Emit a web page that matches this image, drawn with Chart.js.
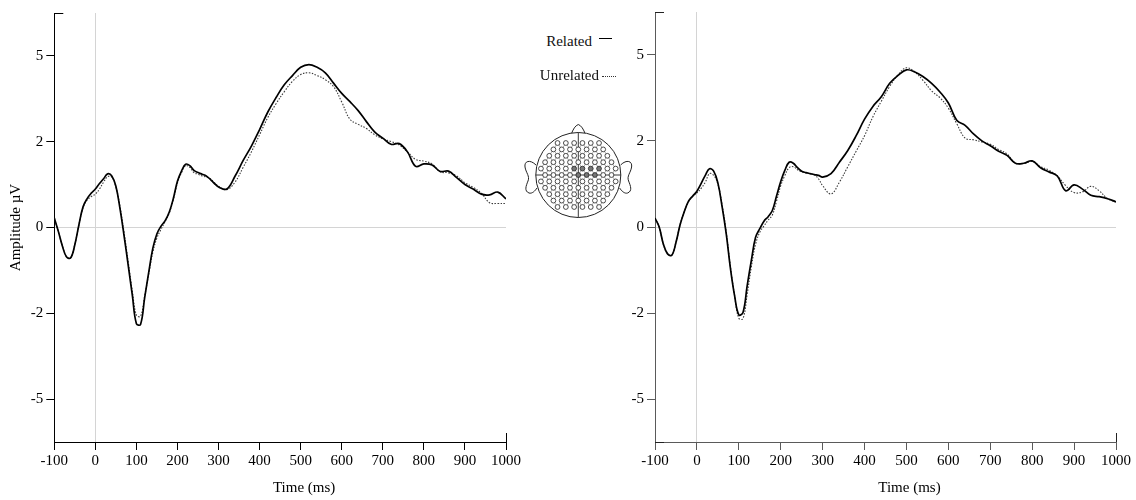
<!DOCTYPE html>
<html><head><meta charset="utf-8">
<script src="https://cdn.jsdelivr.net/npm/chart.js@4.4.1/dist/chart.umd.min.js"></script>
<style>
html,body{margin:0;padding:0;background:#fff;}
#wrap{position:relative;width:1136px;height:500px;overflow:hidden;font-family:"Liberation Serif","Times New Roman",serif;}
.cbox{position:absolute;top:0;height:500px;}
.leg{position:absolute;font-size:15px;color:#111;white-space:nowrap;line-height:18px;}
</style></head><body>
<div id="wrap">
 <div class="cbox" style="left:0;width:530px"><canvas id="cL"></canvas></div>
 <div class="cbox" style="left:600px;width:536px"><canvas id="cR"></canvas></div>
 <div class="leg" style="right:544px;top:32px">Related</div>
 <div style="position:absolute;left:599px;top:38px;width:13px;border-top:1.5px solid #000"></div>
 <div class="leg" style="right:537px;top:66px">Unrelated</div>
 <div style="position:absolute;left:602px;top:76px;width:14px;border-top:1px dotted #333"></div>
 <svg id="head" style="position:absolute;left:515px;top:115px" width="130" height="115" viewBox="515 115 130 115"></svg>
</div>
<script>
// ---- data ----
const times = [-100,-90,-80,-70,-60,-50,-40,-30,-20,-10,0,10,20,30,40,50,60,70,80,90,100,110,120,130,140,150,160,170,180,190,200,210,220,230,240,250,260,270,280,290,300,320,340,360,380,400,420,440,460,480,500,520,540,560,580,600,620,640,660,680,700,720,740,760,780,800,820,840,860,880,900,920,940,960,980,1000];

const leftRelated = [0.28,-0.12,-0.55,-0.86,-0.88,-0.5,0.08,0.6,0.84,1.0,1.12,1.28,1.42,1.56,1.5,1.2,0.55,-0.25,-1.1,-1.97,-2.8,-2.82,-2.05,-1.3,-0.6,-0.18,0.04,0.2,0.45,0.85,1.35,1.65,1.84,1.8,1.66,1.6,1.55,1.5,1.4,1.28,1.18,1.12,1.49,1.95,2.37,2.85,3.36,3.78,4.15,4.42,4.66,4.74,4.66,4.5,4.2,3.9,3.66,3.4,3.08,2.78,2.6,2.42,2.44,2.2,1.78,1.85,1.82,1.63,1.64,1.45,1.25,1.12,0.97,0.95,1.03,0.83];

const leftUnrelated = [0.28,-0.12,-0.55,-0.86,-0.88,-0.5,0.08,0.58,0.8,0.9,0.97,1.12,1.32,1.48,1.47,1.18,0.6,-0.15,-1.0,-1.85,-2.55,-2.58,-2.0,-1.35,-0.72,-0.3,-0.05,0.18,0.42,0.82,1.3,1.6,1.8,1.75,1.6,1.55,1.5,1.47,1.42,1.3,1.2,1.1,1.32,1.75,2.2,2.7,3.2,3.6,3.95,4.25,4.45,4.5,4.42,4.3,4.1,3.65,3.15,3.0,2.88,2.7,2.58,2.5,2.4,2.2,1.98,1.93,1.85,1.62,1.59,1.5,1.3,1.17,1.0,0.72,0.7,0.7];

const rightRelated = [0.26,0.0,-0.5,-0.78,-0.82,-0.45,0.07,0.45,0.75,0.9,1.04,1.26,1.5,1.69,1.62,1.28,0.6,-0.2,-1.2,-2.0,-2.55,-2.48,-1.7,-0.96,-0.3,-0.05,0.17,0.3,0.48,0.9,1.32,1.65,1.88,1.85,1.72,1.62,1.58,1.55,1.52,1.5,1.45,1.55,1.88,2.22,2.65,3.13,3.5,3.78,4.17,4.4,4.56,4.5,4.36,4.17,3.92,3.6,3.1,2.95,2.7,2.5,2.36,2.2,2.08,1.85,1.85,1.92,1.72,1.6,1.48,1.05,1.22,1.1,0.92,0.88,0.82,0.73];

const rightUnrelated = [0.26,0.0,-0.5,-0.78,-0.82,-0.45,0.07,0.45,0.73,0.88,0.99,1.12,1.3,1.55,1.5,1.25,0.65,-0.15,-1.15,-2.0,-2.65,-2.66,-1.95,-1.15,-0.5,-0.15,0.03,0.2,0.35,0.75,1.2,1.5,1.72,1.75,1.66,1.6,1.57,1.55,1.52,1.4,1.2,0.96,1.3,1.75,2.2,2.65,3.2,3.65,4.08,4.42,4.62,4.5,4.25,3.95,3.75,3.45,3.0,2.58,2.53,2.47,2.4,2.25,2.12,1.85,1.85,1.9,1.75,1.65,1.48,1.2,1.0,1.02,1.18,1.05,0.82,0.73];

const xTickValues = [-100,0,100,200,300,400,500,600,700,800,900,1000];
const xTickLabels = ['-100','0','100','200','300','400','500','600','700','800','900','1000'];
const yTickValues = [-5,-2.5,0,2.5,5];
const yTickLabels = ['-5','-2','0','2','5'];
const seriesNames = ['Related','Unrelated'];
const xTitle = 'Time (ms)';
const yTitle = 'Amplitude µV';

// ---- charts ----
const FONT = {family:'"Liberation Serif", "Times New Roman", serif', size:15};

function axisDeco(axisColor, stubColor){
  return {
    id:'deco',
    afterDraw(chart){
      const {left,right,top,bottom} = chart.chartArea;
      const c = chart.ctx;
      c.save();
      c.strokeStyle = stubColor; c.lineWidth = 1;
      c.beginPath();
      c.moveTo(left, top+0.5); c.lineTo(left+9, top+0.5);
      c.moveTo(left, bottom+0.5); c.lineTo(left+9, bottom+0.5);
      c.moveTo(Math.round(right)+0.5, bottom); c.lineTo(Math.round(right)+0.5, bottom-9);
      c.stroke();
      c.fillStyle = '#000';
      c.font = '15px "Liberation Serif", "Times New Roman", serif';
      c.textAlign = 'center'; c.textBaseline = 'middle';
      c.fillText(xTitle, (left+right)/2 + 24, 488);
      c.restore();
    }
  };
}

function makeChart(id, rel, unrel, opts){
  const axisColor = opts.axisColor;
  const gridCol = (ctx) => (ctx.tick && ctx.tick.value === 0) ? '#d4d4d4' : 'rgba(0,0,0,0)';
  return new Chart(document.getElementById(id), {
    type:'line',
    data:{
      datasets:[
        {label:seriesNames[0], data: times.map((t,i)=>({x:t,y:rel[i]})), borderColor:'#000', borderWidth:1.7, pointRadius:0, tension:0.4, fill:false},
        {label:seriesNames[1], data: times.map((t,i)=>({x:t,y:unrel[i]})), borderColor:'#3a3a3a', borderWidth:1.1, borderDash:[1.5,1.5], pointRadius:0, tension:0.4, fill:false}
      ]
    },
    options:{
      responsive:true, maintainAspectRatio:false, animation:false,
      layout:{padding:{top:opts.top, right:opts.right, left:0, bottom:0}},
      plugins:{legend:{display:false}, tooltip:{enabled:false}},
      scales:{
        x:{
          type:'linear', min:-100, max:1000,
          afterBuildTicks:(s)=>{ s.ticks = xTickValues.map(v=>({value:v})); },
          afterFit:(s)=>{ s.height = 58; },
          grid:{color:gridCol, tickColor:axisColor, tickLength:8, lineWidth:1, drawOnChartArea:true},
          border:{display:true, color:axisColor, width:1},
          ticks:{autoSkip:false, maxRotation:0, padding:2, color:'#000', font:FONT,
                 callback:(v)=>xTickLabels[xTickValues.indexOf(v)]}
        },
        y:{
          type:'linear', min:-6.24, max:6.24,
          afterBuildTicks:(s)=>{ s.ticks = yTickValues.map(v=>({value:v})); },
          afterFit:(s)=>{ s.width = opts.yWidth; },
          grid:{color:gridCol, tickColor:axisColor, tickLength:8, lineWidth:1, drawOnChartArea:true},
          border:{display:true, color:axisColor, width:1},
          ticks:{padding:3, color:'#000', font:FONT,
                 callback:(v)=>yTickLabels[yTickValues.indexOf(v)]},
          title:{display:opts.yTitle, text:yTitle, color:'#000', font:FONT, padding:{top:7,bottom:0}}
        }
      }
    },
    plugins:[axisDeco(axisColor, opts.stub)]
  });
}

makeChart('cL', leftRelated, leftUnrelated, {axisColor:'#000', stub:'#000', top:13, right:24, yWidth:54.3, yTitle:true});
makeChart('cR', rightRelated, rightUnrelated, {axisColor:'#5a5a5a', stub:'#222', top:12, right:20, yWidth:55, yTitle:false});

// ---- head illustration (decoration) ----
(function(){
  const svg = document.getElementById('head');
  const NS = 'http://www.w3.org/2000/svg';
  const cx = 578.3, cy = 175, R = 42.5;
  function el(tag, attrs){ const e = document.createElementNS(NS, tag); for (const k in attrs) e.setAttribute(k, attrs[k]); svg.appendChild(e); return e; }
  const st = {fill:'#fff', stroke:'#222', 'stroke-width':1};
  el('path', Object.assign({d:'M536,165 C530,159 524,161 525,167 C526,173 530,176 528,181 C526,186 524,191 529,193 C532,194 535,191 537,188'}, st));
  el('path', Object.assign({d:'M620.6,165 C626.6,159 632.6,161 631.6,167 C630.6,173 626.6,176 628.6,181 C630.6,186 632.6,191 627.6,193 C624.6,194 621.6,191 619.6,188'}, st));
  el('path', Object.assign({d:'M571,135 Q574,126 578.3,124.5 Q582.6,126 585.6,135'}, st));
  el('circle', Object.assign({cx:cx, cy:cy, r:R}, st));
  el('line', {x1:cx-R, y1:cy, x2:cx+R, y2:cy, stroke:'#222', 'stroke-width':0.9});
  el('line', {x1:cx, y1:cy-R, x2:cx, y2:cy+R, stroke:'#222', 'stroke-width':0.9});
  const dy = 6.4, dx = 8.3;
  const pts = [];
  for (let k=-6; k<=6; k++){
    const y = cy + k*dy;
    const off = (Math.abs(k)%2===1) ? dx/2 : 0;
    for (let j=-6; j<=6; j++){
      const x = cx + j*dx + off;
      if (Math.hypot(x-cx, (y-cy)*1.02) > 39) continue;
      pts.push([x,y]);
    }
  }
  for (let a=0; a<pts.length; a++) for (let b=a+1; b<pts.length; b++){
    const d = Math.hypot(pts[a][0]-pts[b][0], pts[a][1]-pts[b][1]);
    if (d < 8.0) el('line', {x1:pts[a][0], y1:pts[a][1], x2:pts[b][0], y2:pts[b][1], stroke:'#555', 'stroke-width':0.5});
  }
  for (const [x,y] of pts){
    const dark = (x>573 && x<600 && y>164 && y<177);
    el('circle', {cx:x, cy:y, r:2.4, fill: dark ? '#777' : '#fff', stroke:'#222', 'stroke-width':0.8});
  }
})();
</script>
</body></html>
